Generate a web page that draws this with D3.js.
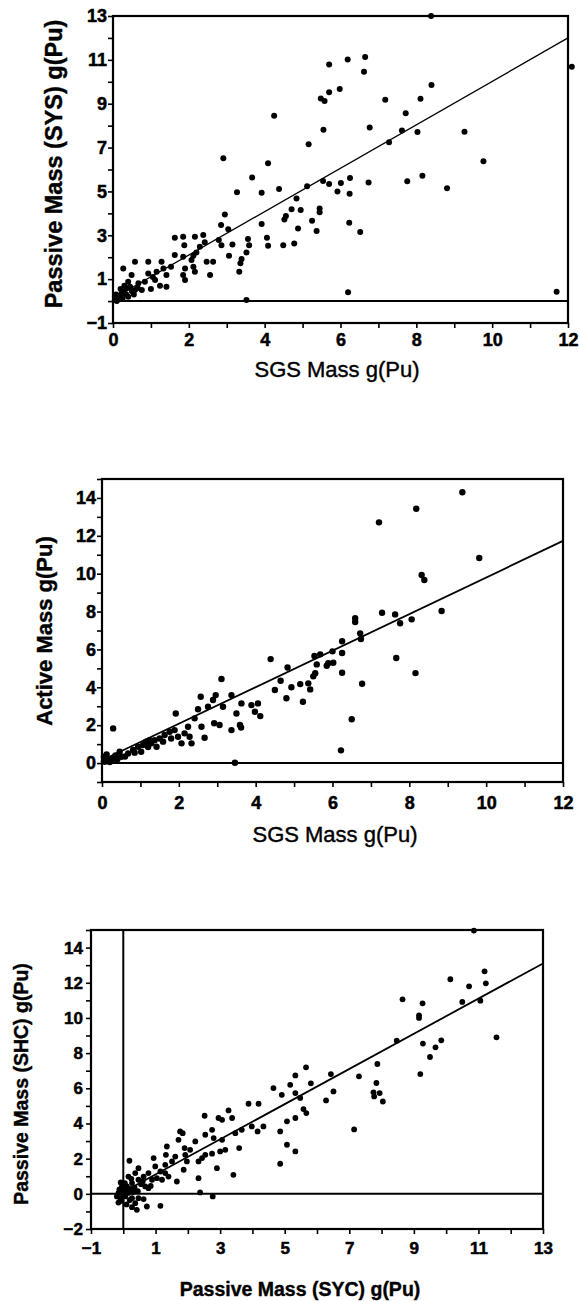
<!DOCTYPE html>
<html>
<head>
<meta charset="utf-8">
<script src="https://cdnjs.cloudflare.com/ajax/libs/d3/7.8.5/d3.min.js"></script>
<style>
body{margin:0;background:#fff}
text{font-family:"Liberation Sans",Arial,Helvetica,sans-serif;fill:#000}
</style>
</head>
<body>
<script>
// panel 1 : SGS mass vs passive mass (SYS)
var sgsVsPassive = [
  [5.70,10.79],[6.19,11.02],[6.65,11.13],[6.62,10.46],[5.98,9.67],[5.70,9.52],[5.48,9.24],[5.58,9.12],
  [7.18,9.18],[8.11,9.23],[8.40,9.85],[7.72,8.57],[5.55,7.81],[6.77,7.92],[7.62,7.78],[8.03,7.71],
  [9.27,7.72],[5.16,7.15],[7.28,7.24],[9.77,6.38],[4.84,4.68],[5.12,5.24],[5.54,5.47],[5.70,5.34],
  [6.01,5.38],[6.25,5.61],[6.74,5.41],[5.92,5.00],[6.24,4.89],[7.76,5.46],[8.16,5.71],[8.81,5.14],
  [4.71,4.19],[4.95,4.15],[5.45,4.22],[5.45,4.05],[5.25,3.66],[4.88,3.31],[5.37,3.19],[6.23,3.57],
  [6.52,3.15],[6.20,0.40],[8.39,13.0],[12.1,10.68],[4.25,8.45],[2.91,6.51],[4.09,6.28],[11.7,0.42],
  [3.67,5.64],[3.27,4.96],[3.92,4.94],[4.38,5.11],[2.95,3.95],[3.92,3.51],[4.52,3.72],[4.56,3.88],
  [2.85,3.47],[3.04,3.28],[2.79,2.78],[2.86,2.55],[3.15,2.58],[3.56,2.83],[3.59,2.55],[3.52,2.22],
  [3.39,1.92],[3.36,1.72],[3.33,1.34],[4.06,2.89],[4.09,2.52],[4.49,2.55],[4.78,2.63],[3.06,2.07],
  [1.63,2.89],[1.85,2.93],[1.88,2.55],[2.16,2.93],[2.38,3.01],[2.42,2.68],[2.29,2.48],[2.20,2.22],
  [2.12,2.07],[2.07,1.87],[1.85,2.02],[1.63,2.10],[2.47,1.79],[2.64,1.79],[2.56,1.19],[2.16,1.34],
  [2.12,1.56],[1.90,1.49],[1.85,1.19],[1.90,0.96],[1.53,1.56],[1.41,1.19],[1.28,1.79],[1.33,1.49],
  [1.15,1.34],[1.11,0.96],[1.24,0.70],[1.41,0.65],[0.93,1.79],[0.93,1.26],[0.84,0.88],[0.58,1.79],
  [0.27,1.49],[0.49,1.19],[0.40,0.88],[0.67,0.81],[0.58,0.50],[0.36,0.59],[0.23,0.36],[0.14,0.23],
  [0.05,0.05],[0.30,0.42],[0.76,0.50],[3.52,0.05],[0.08,0.30],[0.20,0.55],[0.35,0.30],[0.50,0.45],
  [0.65,0.60],[0.10,0.00],[0.25,0.10],[0.40,0.20],[0.15,0.12],[0.30,0.70],[0.45,0.65],[0.05,0.20],
  [0.20,0.25],[0.55,0.30],[1.00,0.55],[1.05,1.10]
];
var fitSgsVsPassive = [0.12, 0.99];

// panel 2 : SGS mass vs active mass
var sgsVsActive = [
  [9.38,14.30],[8.18,13.43],[7.21,12.71],[9.82,10.83],[8.32,9.93],[8.39,9.67],[7.29,7.94],[8.84,8.03],
  [7.63,7.85],[7.76,7.38],[8.06,7.59],[6.59,7.65],[6.59,7.45],[6.72,6.85],[6.74,6.55],[6.25,6.43],
  [6.25,5.81],[6.00,5.90],[5.68,5.74],[5.53,5.65],[5.59,5.21],[5.89,5.27],[6.02,5.30],[5.85,5.14],
  [5.55,4.74],[5.50,4.58],[5.37,4.21],[5.42,3.89],[5.16,4.17],[5.23,3.24],[6.25,4.77],[7.66,5.55],
  [8.16,4.75],[6.77,4.19],[6.50,2.31],[6.22,0.67],
  [4.39,5.49],[4.83,5.05],[4.65,4.35],[4.93,4.00],[4.50,3.86],[4.80,3.42],[3.11,4.44],[2.57,3.50],
  [2.96,3.59],[2.89,3.33],[2.76,2.97],[2.50,2.84],[3.15,2.97],[3.37,3.59],[3.63,3.15],[3.50,2.62],
  [3.89,3.06],[4.06,3.15],[3.98,2.71],[4.12,2.48],[1.92,2.62],[2.92,2.10],[3.06,2.01],[3.37,1.74],
  [3.59,2.01],[3.62,1.88],[2.59,1.92],[2.67,1.34],[2.41,2.36],[2.24,1.92],[2.15,1.57],[2.28,1.39],
  [2.33,1.04],[2.07,1.04],[1.98,1.39],[1.89,1.74],[1.76,1.65],[1.63,1.48],[1.50,1.30],[1.37,1.21],
  [1.42,0.86],[1.28,1.04],[1.15,1.13],[1.07,0.95],[1.02,0.60],[0.94,0.86],[0.81,0.69],[0.68,0.51],
  [0.46,0.60],[0.50,0.33],[0.29,0.25],[0.16,0.16],[0.07,0.07],[0.05,0.33],[0.29,1.83],[3.46,0.02],
  [1.24,1.21],[1.59,1.13],[1.80,1.30],[0.10,0.20],[0.20,0.05],[0.35,0.40],[0.60,0.35],[0.12,0.45],
  [0.05,0.10],[0.25,0.10],[0.40,0.20],[0.85,0.55],[1.20,0.85]
];
var fitSgsVsActive = [0.15, 0.965];

// panel 3 : passive SYC vs passive SHC
var sycVsShc = [
  [10.86,14.97],[11.19,12.65],[11.23,11.97],[10.13,12.20],[10.71,11.80],[10.50,10.91],[11.06,10.98],
  [8.65,11.06],[9.27,10.83],[9.16,10.15],[9.16,10.00],[8.47,8.71],[9.28,8.54],[9.85,8.73],[9.67,8.33],
  [9.50,7.78],[9.20,6.81],[7.87,7.38],[7.30,6.68],[7.84,6.30],[7.75,5.77],[7.94,5.73],[7.77,5.54],
  [8.04,5.25],[6.43,6.81],[6.51,5.82],[6.28,5.31],[7.15,3.66],[5.66,7.19],[5.33,6.73],[5.81,6.28],
  [5.17,6.20],[5.33,5.73],[5.48,5.45],[5.58,4.82],[5.67,4.59],[5.33,4.31],[11.56,8.90],
  [4.65,6.01],[4.91,5.63],[3.88,5.12],[4.19,5.12],[3.26,4.74],[2.52,4.44],[2.95,4.31],[3.06,4.21],
  [3.37,4.31],[1.76,3.55],[1.84,3.45],[1.71,3.07],[2.23,2.98],[2.54,3.36],[2.75,3.64],[2.80,3.17],
  [3.06,3.07],[3.47,3.45],[3.67,3.64],[3.98,3.83],[4.16,3.55],[4.34,3.83],[4.86,3.55],[5.07,4.12],
  [5.07,2.79],[4.86,1.71],[5.33,2.41],[3.59,2.60],[3.41,1.08],[2.90,1.46],[3.00,2.41],[3.16,2.50],
  [2.75,2.28],[2.54,2.22],[2.44,2.03],[2.33,1.84],[2.33,0.89],[2.07,2.50],[1.90,2.60],[1.92,2.22],
  [1.97,1.84],[1.87,1.37],[1.66,0.70],[1.61,2.12],[1.51,1.84],[1.35,2.69],[1.32,2.22],[1.30,1.65],
  [1.30,1.18],[1.15,1.27],[0.94,2.03],[0.99,1.56],[1.04,0.89],[0.89,0.80],[0.78,1.18],[0.63,0.98],
  [0.68,0.42],[0.47,0.80],[0.37,1.18],[0.19,1.88],[0.47,1.46],[0.16,0.98],[0.27,0.61],[0.11,0.42],
  [0.01,0.23],[-0.15,0.04],[-0.09,-0.25],[-0.20,-0.15],[-0.04,0.42],[0.06,-0.15],[0.27,-0.25],
  [0.47,-0.25],[0.63,-0.30],[0.37,-0.53],[0.73,-0.72],[1.15,-0.68],[0.42,-0.91],[0.27,-0.76],
  [2.38,0.08],[2.77,-0.15],[0.78,0.32],[1.20,0.80],[1.40,0.98],[-0.10,0.10],[0.00,-0.05],
  [-0.05,-0.40],[0.10,0.15],[0.20,0.30],[0.05,0.60],[-0.12,0.25],[0.30,0.10],[-0.08,0.65],
  [0.15,0.05],[-0.02,0.35],[0.35,0.35],[0.55,0.55],[0.20,-0.35],[-0.15,-0.50],[0.10,-0.60],
  [0.45,0.15],[0.60,0.70],[0.85,0.45],[0.25,0.85]
];
var fitSycVsShc = [0.10, 1.0];

// tick labels
var xLabels1 = [0,2,4,6,8,10,12];
var yLabels1 = [-1,1,3,5,7,9,11,13];
var xLabels2 = [0,2,4,6,8,10,12];
var yLabels2 = [0,2,4,6,8,10,12,14];
var xLabels3 = [-1,1,3,5,7,9,11,13];
var yLabels3 = [-2,0,2,4,6,8,10,12,14];

var svg = d3.select("body").append("svg").attr("width",579).attr("height",1301);
svg.append("rect").attr("width",579).attr("height",1301).attr("fill","#fff");

function fmt(d){ return d < 0 ? "\u2212" + (-d) : String(d); }

function panel(o){
  var g = svg.append("g");
  var x = d3.scaleLinear().domain(o.xDom).range(o.xRange);
  var y = d3.scaleLinear().domain(o.yDom).range(o.yRange);

  var xAxis = d3.axisBottom(x)
      .tickValues(d3.range(o.xDom[0], o.xDom[1]+1))
      .tickSizeInner(5).tickSizeOuter(0).tickPadding(o.xPad)
      .tickFormat(function(d){ return o.xLabels.indexOf(d) >= 0 ? fmt(d) : ""; });
  var yAxis = d3.axisLeft(y)
      .tickValues(d3.range(o.yDom[0], o.yDom[1]+1))
      .tickSizeInner(5).tickSizeOuter(0).tickPadding(o.yPad)
      .tickFormat(function(d){ return o.yLabels.indexOf(d) >= 0 ? fmt(d) : ""; });

  var ax = g.append("g").attr("transform","translate(0,"+y(o.yDom[0])+")").call(xAxis);
  var ay = g.append("g").attr("transform","translate("+x(o.xDom[0])+",0)").call(yAxis);
  [ax, ay].forEach(function(a){
    a.select(".domain").remove();
    a.selectAll("line").attr("stroke","#000").attr("stroke-width",1.6);
    a.selectAll("text").attr("font-size",o.tickFont).attr("font-weight","bold")
      .attr("fill","#000").attr("stroke","#000").attr("stroke-width",0.5);
  });

  // frame
  g.append("rect")
    .attr("x",x(o.xDom[0])).attr("y",y(o.yDom[1]))
    .attr("width",x(o.xDom[1])-x(o.xDom[0])).attr("height",y(o.yDom[0])-y(o.yDom[1]))
    .attr("fill","none").attr("stroke","#000").attr("stroke-width",2.2);

  // zero lines
  g.append("line").attr("x1",x(o.xDom[0])).attr("x2",x(o.xDom[1]))
    .attr("y1",y(0)).attr("y2",y(0)).attr("stroke","#000").attr("stroke-width",2);
  if (o.xDom[0] < 0) {
    g.append("line").attr("x1",x(0)).attr("x2",x(0))
      .attr("y1",y(o.yDom[0])).attr("y2",y(o.yDom[1])).attr("stroke","#000").attr("stroke-width",2);
  }

  // fit line
  var line = d3.line().x(function(d){ return x(d); }).y(function(d){ return y(o.fit[0] + o.fit[1]*d); });
  g.append("path").datum([0, o.xDom[1]]).attr("d",line)
    .attr("fill","none").attr("stroke","#000").attr("stroke-width",o.fitWidth);

  // points
  g.append("g").selectAll("circle").data(o.points).join("circle")
    .attr("cx",function(d){ return x(d[0]); })
    .attr("cy",function(d){ return y(d[1]); })
    .attr("r",o.r).attr("fill","#000");

  // titles
  g.append("text").attr("x",o.xTitle[1]).attr("y",o.xTitle[2])
    .attr("text-anchor","middle").attr("font-size",o.xTitle[3]).attr("font-weight",o.xTitle[4])
    .attr("stroke","#000").attr("stroke-width",0.4)
    .text(o.xTitle[0]);
  g.append("text").attr("transform","translate("+o.yTitle[1]+","+o.yTitle[2]+") rotate(-90)")
    .attr("text-anchor","middle").attr("font-size",o.yTitle[3]).attr("font-weight","bold")
    .attr("stroke","#000").attr("stroke-width",0.4)
    .text(o.yTitle[0]);
}

panel({
  xDom:[0,12], yDom:[-1,13], xRange:[113,568], yRange:[323,16],
  xLabels:xLabels1, yLabels:yLabels1, xPad:5, yPad:1, tickFont:18,
  points:sgsVsPassive, fit:fitSgsVsPassive, fitWidth:1.3, r:3,
  xTitle:["SGS Mass g(Pu)",337,377,22,"normal"],
  yTitle:["Passive Mass (SYS) g(Pu)",62,164,23.5]
});
panel({
  xDom:[0,12], yDom:[-1,15], xRange:[102,563], yRange:[782,479],
  xLabels:xLabels2, yLabels:yLabels2, xPad:9, yPad:1, tickFont:18,
  points:sgsVsActive, fit:fitSgsVsActive, fitWidth:1.8, r:3.2,
  xTitle:["SGS Mass g(Pu)",335,842,22,"normal"],
  yTitle:["Active Mass g(Pu)",52,631,22]
});
panel({
  xDom:[-1,13], yDom:[-2,15], xRange:[91,543], yRange:[1229,930],
  xLabels:xLabels3, yLabels:yLabels3, xPad:8, yPad:3, tickFont:17,
  points:sycVsShc, fit:fitSycVsShc, fitWidth:1.8, r:2.9,
  xTitle:["Passive Mass (SYC) g(Pu)",300,1296,19.5,"bold"],
  yTitle:["Passive Mass (SHC) g(Pu)",28,1084,19.5]
});
</script>
</body>
</html>
